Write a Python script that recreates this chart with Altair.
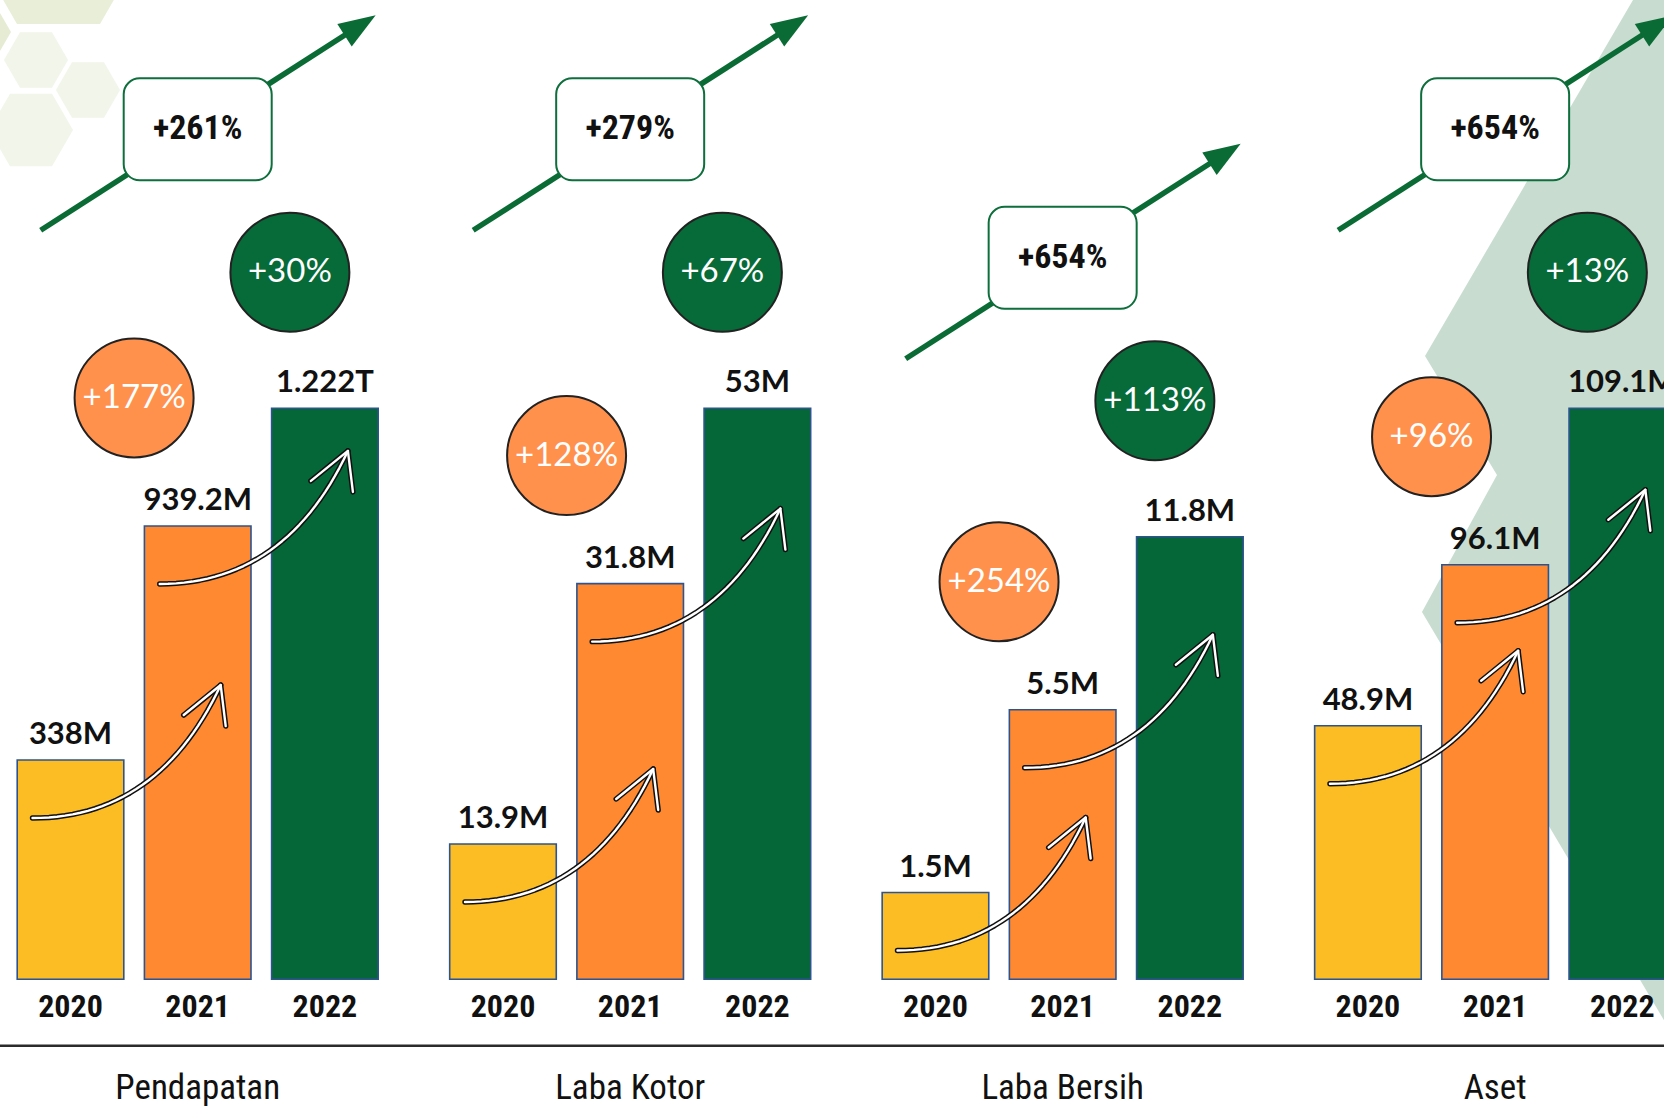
import altair as alt
import pandas as pd

# ---------------- data ----------------
groups = ["Pendapatan", "Laba Kotor", "Laba Bersih", "Aset"]
years = ["2020", "2021", "2022"]

pendapatan_labels = ["338M", "939.2M", "1.222T"]
laba_kotor_labels = ["13.9M", "31.8M", "53M"]
laba_bersih_labels = ["1.5M", "5.5M", "11.8M"]
aset_labels = ["48.9M", "96.1M", "109.1M"]

# drawn bar heights as they appear in the picture (tallest bar = 100)
pendapatan_height = [38.4, 79.4, 100.0]
laba_kotor_height = [23.7, 69.3, 100.0]
laba_bersih_height = [15.2, 47.2, 77.5]
aset_height = [44.4, 72.6, 100.0]

growth_2021 = ["+177%", "+128%", "+254%", "+96%"]
growth_2022 = ["+30%", "+67%", "+113%", "+13%"]
growth_total = ["+261%", "+279%", "+654%", "+654%"]

labels = [pendapatan_labels, laba_kotor_labels, laba_bersih_labels, aset_labels]
heights = [pendapatan_height, laba_kotor_height, laba_bersih_height, aset_height]

# ---------------- layout ----------------
W, H = 1664, 1108
STEP = 127.2      # px per bar slot
GSTEP = 3.4       # slots between groups
X0 = 70.5         # pixel of slot 0
BASE = 979.3      # pixel of bar baseline
PPU = 5.71        # px per height unit
BAR_HALF = 0.419

CONDENSED = "'Roboto Condensed', 'Open Sans Condensed', sans-serif"
ROUND = "Lato, 'Open Sans', sans-serif"
BAR_COLORS = ["#FBBD23", "#FE8930", "#056737"]
ARROW_GREEN = "#0A6B35"


def dxu(px):
    return px / STEP


def dyu(px):
    return px / PPU


def ux(px):
    return (px - X0) / STEP


def uy(px):
    return (BASE - px) / PPU


def pos(g, j):
    return g * GSTEP + j


xs = alt.Scale(domain=[ux(0), ux(W)], nice=False, zero=False)
ys = alt.Scale(domain=[uy(H), uy(0)], nice=False, zero=False)


def X(f):
    return alt.X(f, type="quantitative", scale=xs, axis=None)


def Y(f):
    return alt.Y(f, type="quantitative", scale=ys, axis=None)


# ---------------- tables ----------------
bar_rows = []
for g, grp in enumerate(groups):
    for j, yr in enumerate(years):
        p = pos(g, j)
        bar_rows.append(dict(group=grp, year=yr, x=p, xa=p - BAR_HALF, xb=p + BAR_HALF,
                             h=heights[g][j], base=0.0, label=labels[g][j],
                             ly=heights[g][j] + dyu(16), yy=uy(1006.7)))
bars = pd.DataFrame(bar_rows)

grp_df = pd.DataFrame(dict(group=groups, x=[pos(g, 1) for g in range(4)], y=[uy(1099) for _ in groups]))

orange_df = pd.DataFrame(dict(t=growth_2021, x=[pos(g, 0.5) for g in range(4)],
                              y=[heights[g][1] + dyu(128) for g in range(4)]))
green_df = pd.DataFrame(dict(t=growth_2022, x=[pos(g, 2) - dxu(35) for g in range(4)],
                             y=[heights[g][2] + dyu(136) for g in range(4)]))

box_rows, arrow_rows, head_rows = [], [], []
for g in range(4):
    bx = pos(g, 1)
    by = heights[g][2] + dyu(279)
    box_rows.append(dict(t=growth_total[g], x=bx, y=by, xa=bx - dxu(74), xb=bx + dxu(74),
                         ya=by - dyu(51), yb=by + dyu(51)))
    arrow_rows.append(dict(id=g, o=0, x=bx + dxu(-157), y=by - dyu(101)))
    arrow_rows.append(dict(id=g, o=1, x=bx + dxu(152.7), y=by + dyu(97.8)))
    head_rows.append(dict(x=bx + dxu(162.4), y=by + dyu(104)))
boxes = pd.DataFrame(box_rows)
arrows = pd.DataFrame(arrow_rows)
heads = pd.DataFrame(head_rows)

curve_rows = []
for g in range(4):
    h = heights[g]
    for k in range(2):
        sx = pos(g, k) - dxu(38)
        sy = h[k] - dyu(58)
        tx = pos(g, k + 1) + dxu(23)
        ty = sy + dyu(133)
        cx1, cy1 = sx + dxu(126), sy
        cid = f"c{g}{k}"
        n = 30
        for i in range(n + 1):
            t = i / n
            x = (1 - t) ** 2 * sx + 2 * (1 - t) * t * cx1 + t * t * tx
            y = (1 - t) ** 2 * sy + 2 * (1 - t) * t * cy1 + t * t * ty
            curve_rows.append(dict(id=cid, o=i, x=x, y=y))
        hid = f"h{g}{k}"
        pts = [(tx - dxu(37), ty - dyu(30)), (tx, ty), (tx + dxu(5), ty - dyu(41))]
        for i, (x, y) in enumerate(pts):
            curve_rows.append(dict(id=hid, o=i, x=x, y=y))
curves = pd.DataFrame(curve_rows)

# background decoration: diagonal band and hexagons (pixel layout)
bcx, bcy, R = 1543.0, 512.0, 620.0
band_poly = [(1640, -12), (1425, 356), (1497, 475), (1422, 612), (1700, 1081), (1700, -12)]
band_path = "M" + "L".join(f"{(px - bcx) / R:.4f},{(py - bcy) / R:.4f}" for px, py in band_poly) + "Z"
band_df = pd.DataFrame(dict(x=[ux(bcx)], y=[uy(bcy)]))

HEX = "M-1,0L-0.5,-0.866L0.5,-0.866L1,0L0.5,0.866L-0.5,0.866Z"
hex_px = [(58.5, -48, 166, "#E8EED7"), (-29, 32, 80, "#E6ECD3"), (36, 60, 64, "#F2F5EA"),
          (88, 90, 64, "#F2F5EA"), (31, 130, 84, "#F2F5EA")]
hex_df = pd.DataFrame([dict(x=ux(a), y=uy(b), s=w * w, c=c) for a, b, w, c in hex_px])

# ---------------- layers ----------------
band = alt.Chart(band_df).mark_point(shape=band_path, filled=True, size=(2 * R) ** 2,
                                     fill="#C8DDD0", opacity=1, strokeWidth=0).encode(x=X("x"), y=Y("y"))
hexes = alt.Chart(hex_df).mark_point(shape=HEX, filled=True, opacity=1, strokeWidth=0).encode(
    x=X("x"), y=Y("y"), size=alt.Size("s:Q", scale=None), fill=alt.Fill("c:N", scale=None))

shadow = alt.Chart(bars).mark_rect(color="#000000", opacity=0.15, xOffset=3, yOffset=3).encode(
    x=X("xa"), x2="xb", y=Y("h"), y2="base")
bar_layer = alt.Chart(bars).mark_rect(stroke="#2D5391", strokeWidth=1.6).encode(
    x=X("xa"), x2="xb", y=Y("h"), y2="base",
    color=alt.Color("year:N", scale=alt.Scale(domain=years, range=BAR_COLORS), legend=None))

curve_black = alt.Chart(curves).mark_line(color="#111111", strokeWidth=5.4, strokeCap="round",
                                          strokeJoin="round").encode(
    x=X("x"), y=Y("y"), detail="id:N", order="o:Q")
curve_white = alt.Chart(curves).mark_line(color="#FFFFFF", strokeWidth=2.4, strokeCap="round",
                                          strokeJoin="round").encode(
    x=X("x"), y=Y("y"), detail="id:N", order="o:Q")

value_text = alt.Chart(bars).mark_text(font=ROUND, fontSize=31, fontWeight="bold", color="#111111",
                                       baseline="alphabetic", align="center").encode(
    x=X("x"), y=Y("ly"), text="label:N")
year_text = alt.Chart(bars).mark_text(font=CONDENSED, fontSize=32, fontWeight="bold", color="#111111",
                                      baseline="middle", align="center").encode(
    x=X("x"), y=Y("yy"), text="year:N")
rule = alt.Chart(pd.DataFrame(dict(a=[0]))).mark_rule(color="#2B2B2B", strokeWidth=2.4).encode(
    x=alt.value(0), x2=alt.value(W), y=alt.value(1045.7))
group_text = alt.Chart(grp_df).mark_text(font=CONDENSED, fontSize=35, color="#111111",
                                         baseline="alphabetic", align="center").encode(
    x=X("x"), y=Y("y"), text="group:N")

arrow_line = alt.Chart(arrows).mark_line(color=ARROW_GREEN, strokeWidth=5.5, strokeCap="butt").encode(
    x=X("x"), y=Y("y"), detail="id:N", order="o:Q")
arrow_head = alt.Chart(heads).mark_point(shape="M0,-1L0.72,1L-0.72,1Z", filled=True, size=1369,
                                         angle=57.3, fill=ARROW_GREEN, opacity=1, strokeWidth=0).encode(
    x=X("x"), y=Y("y"))
box = alt.Chart(boxes).mark_rect(fill="#FFFFFF", stroke="#0E6E3C", strokeWidth=2, cornerRadius=16).encode(
    x=X("xa"), x2="xb", y=Y("ya"), y2="yb")
box_text = alt.Chart(boxes).mark_text(font=CONDENSED, fontSize=34, fontWeight="bold", color="#111111",
                                      baseline="middle", align="center").encode(
    x=X("x"), y=Y("y"), text="t:N")

orange_c = alt.Chart(orange_df).mark_point(shape="circle", filled=True, size=14161, fill="#FF914D",
                                           stroke="#222222", strokeWidth=2, opacity=1).encode(
    x=X("x"), y=Y("y"))
orange_t = alt.Chart(orange_df).mark_text(font=ROUND, fontSize=33, color="#FFFFFF",
                                          baseline="middle", align="center").encode(
    x=X("x"), y=Y("y"), text="t:N")
green_c = alt.Chart(green_df).mark_point(shape="circle", filled=True, size=14161, fill="#066B38",
                                         stroke="#222222", strokeWidth=2, opacity=1).encode(
    x=X("x"), y=Y("y"))
green_t = alt.Chart(green_df).mark_text(font=ROUND, fontSize=33, color="#FFFFFF",
                                        baseline="middle", align="center").encode(
    x=X("x"), y=Y("y"), text="t:N")

chart = alt.layer(
    band, hexes, shadow, bar_layer, curve_black, curve_white, value_text, year_text, rule,
    group_text, arrow_line, arrow_head, box, box_text, orange_c, orange_t, green_c, green_t
).properties(
    width=W, height=H, padding=0, background="#FFFFFF",
    autosize=alt.AutoSizeParams(type="none")
).configure_view(strokeWidth=0)

chart.save("out.html", embed_options={"renderer": "svg", "actions": False})
